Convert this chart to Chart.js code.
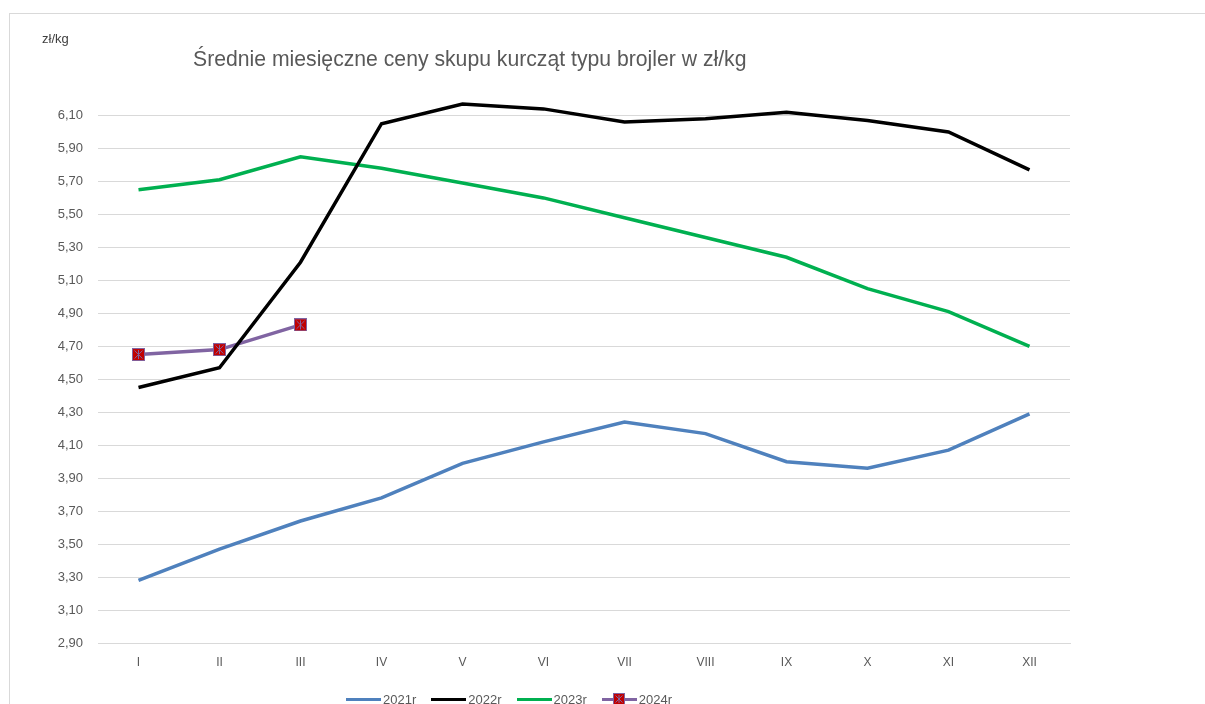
<!DOCTYPE html>
<html lang="pl">
<head>
<meta charset="UTF-8">
<title>Średnie miesięczne ceny skupu kurcząt</title>
<script src="https://cdn.jsdelivr.net/npm/chart.js@4.4.0/dist/chart.umd.min.js"></script>
<style>
  body { margin: 0; padding: 0; background: #fff; overflow: hidden; font-family: "Liberation Sans", Arial, sans-serif; }
  #wrap { position: relative; width: 1205px; height: 704px; }
  #frame { position: absolute; left: 9px; top: 13px; width: 1300px; height: 800px; border: 1px solid #d9d9d9; box-sizing: border-box; }
  #chart { position: absolute; left: 0; top: 0; }
  #unit { position: absolute; left: 42px; top: 31px; font-size: 13px; color: #404040; }
  #title { position: absolute; left: 193px; top: 47px; font-size: 21.2px; color: #595959; white-space: nowrap; }
  #legend { position: absolute; left: 346px; top: 690px; height: 18px; display: flex; align-items: center; font-size: 13px; color: #595959; white-space: nowrap; }
  .item { display: flex; align-items: center; margin-right: 15px; }
  .swatch { position: relative; width: 35px; height: 3px; margin-right: 2px; }
  .swatch canvas { position: absolute; left: 11px; top: -5px; }
</style>
</head>
<body>
<div id="wrap">
  <div id="frame"></div>
  <canvas id="chart" width="1205" height="704"></canvas>
  <div id="unit">zł/kg</div>
  <div id="title">Średnie miesięczne ceny skupu kurcząt typu brojler w zł/kg</div>
  <div id="legend"></div>
</div>
<script>
// months
var months = ['I', 'II', 'III', 'IV', 'V', 'VI', 'VII', 'VIII', 'IX', 'X', 'XI', 'XII'];

// prices zł/kg
var y2021 = [3.28, 3.47, 3.64, 3.78, 3.99, 4.12, 4.24, 4.17, 4.00, 3.96, 4.07, 4.29];
var y2022 = [4.45, 4.57, 5.21, 6.05, 6.17, 6.14, 6.06, 6.08, 6.12, 6.07, 6.00, 5.77];
var y2023 = [5.65, 5.71, 5.85, 5.78, 5.69, 5.60, 5.48, 5.36, 5.24, 5.05, 4.91, 4.70];
var y2024 = [4.65, 4.68, 4.83];

var yTicks = [2.9, 3.1, 3.3, 3.5, 3.7, 3.9, 4.1, 4.3, 4.5, 4.7, 4.9, 5.1, 5.3, 5.5, 5.7, 5.9, 6.1];

var seriesNames = ['2021r', '2022r', '2023r', '2024r'];
var colors = ['#4f81bd', '#000000', '#00b050', '#8064a2'];

// marker for 2024: red square with an x
function makeMarker(n) {
  var c = document.createElement('canvas');
  c.width = n; c.height = n;
  var g = c.getContext('2d');
  g.fillStyle = '#c00000';
  g.fillRect(0, 0, n, n);
  g.strokeStyle = '#8064a2';
  g.lineWidth = 1;
  g.strokeRect(0.5, 0.5, n - 1, n - 1);
  g.beginPath();
  g.moveTo(2.5, 2.5); g.lineTo(n - 2.5, n - 2.5);
  g.moveTo(n - 2.5, 2.5); g.lineTo(2.5, n - 2.5);
  g.moveTo(n / 2, 2); g.lineTo(n / 2, n - 2);
  g.stroke();
  return c;
}
var marker = makeMarker(13);

function ds(label, data, color, extra) {
  var d = {
    label: label,
    data: data,
    borderColor: color,
    backgroundColor: color,
    borderWidth: 3.5,
    pointRadius: 0,
    tension: 0,
    fill: false
  };
  return Object.assign(d, extra || {});
}

var ctx = document.getElementById('chart');
new Chart(ctx, {
  type: 'line',
  data: {
    labels: months,
    datasets: [
      ds(seriesNames[0], y2021, colors[0]),
      ds(seriesNames[1], y2022, colors[1]),
      ds(seriesNames[2], y2023, colors[2]),
      ds(seriesNames[3], y2024, colors[3], { pointStyle: marker, pointRadius: 6.5 })
    ]
  },
  options: {
    responsive: false,
    animation: false,
    layout: { padding: { top: 99, right: 135, bottom: 0, left: 0 } },
    plugins: { legend: { display: false }, title: { display: false }, tooltip: { enabled: false } },
    scales: {
      x: {
        offset: true,
        grid: { display: false, drawTicks: false },
        border: { color: '#d9d9d9', width: 1 },
        ticks: { color: '#595959', font: { family: 'Liberation Sans', size: 12 }, padding: 12, maxRotation: 0 },
        afterFit: function (s) { s.height = 61; }
      },
      y: {
        min: 2.9,
        max: 6.2,
        afterBuildTicks: function (s) { s.ticks = yTicks.map(function (v) { return { value: v }; }); },
        grid: { color: '#d9d9d9', lineWidth: 1, drawTicks: false },
        border: { display: false },
        ticks: {
          color: '#595959',
          font: { family: 'Liberation Sans', size: 13 },
          padding: 15,
          callback: function (v) { return Number(v).toFixed(2).replace('.', ','); }
        },
        afterFit: function (s) { s.width = 98; }
      }
    }
  }
});

// legend
var leg = document.getElementById('legend');
seriesNames.forEach(function (name, i) {
  var item = document.createElement('div');
  item.className = 'item';
  var sw = document.createElement('div');
  sw.className = 'swatch';
  sw.style.background = colors[i];
  if (i === 3) sw.appendChild(makeMarker(12));
  var tx = document.createElement('span');
  tx.textContent = name;
  item.appendChild(sw);
  item.appendChild(tx);
  leg.appendChild(item);
});
</script>
</body>
</html>
